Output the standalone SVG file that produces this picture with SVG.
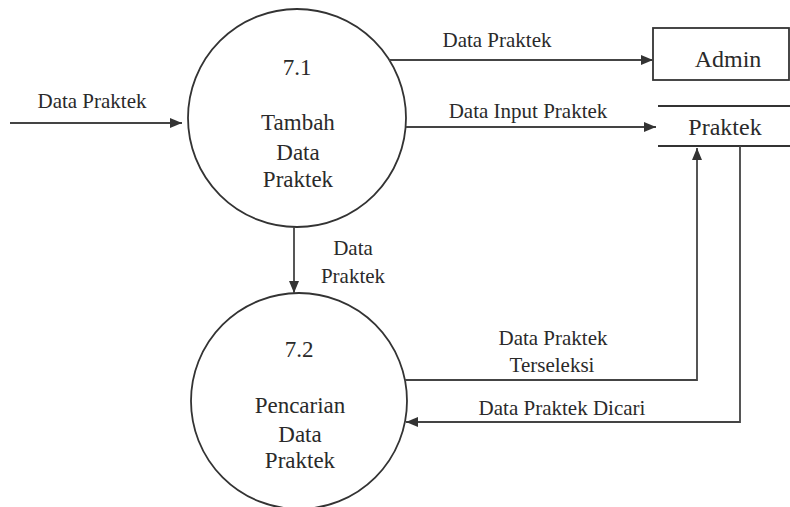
<svg xmlns="http://www.w3.org/2000/svg" width="790" height="507" viewBox="0 0 790 507">
  <style>
    .shape { fill: none; stroke: #333; stroke-width: 1.8; }
    .flow { fill: none; stroke: #444; stroke-width: 1.8; }
    text { font-family: 'Liberation Serif', Tinos, 'DejaVu Serif', 'Noto Serif', 'Times New Roman', serif; fill: #2a2a2a; text-anchor: middle; }
    .lbl { font-size: 21px; }
    .proc { font-size: 23px; }
    .store { font-size: 24px; }
  </style>
  <defs>
    <marker id="arrow" viewBox="0 0 12 10" refX="12" refY="5" markerWidth="12" markerHeight="10" markerUnits="userSpaceOnUse" orient="auto">
      <path d="M0,0 L12,5 L0,10 z" fill="#333"/>
    </marker>
  </defs>
  <rect width="790" height="507" fill="#fff"/>

  <!-- Process 7.1 -->
  <g id="p71">
    <circle class="shape" cx="297" cy="118" r="109"/>
    <text class="proc" x="297" y="75">7.1</text>
    <text class="proc" x="298" y="130">Tambah</text>
    <text class="proc" x="298" y="160">Data</text>
    <text class="proc" x="298" y="187">Praktek</text>
  </g>

  <!-- Process 7.2 -->
  <g id="p72">
    <circle class="shape" cx="299" cy="401" r="108"/>
    <text class="proc" x="299" y="357">7.2</text>
    <text class="proc" x="300" y="413">Pencarian</text>
    <text class="proc" x="300" y="442">Data</text>
    <text class="proc" x="300" y="468">Praktek</text>
  </g>

  <!-- External entity Admin -->
  <g id="admin">
    <rect class="shape" x="653" y="28" width="136" height="52"/>
    <text class="store" x="728" y="67">Admin</text>
  </g>

  <!-- Data store Praktek -->
  <g id="praktek">
    <line class="shape" x1="658" y1="106" x2="790" y2="106"/>
    <line class="shape" x1="658" y1="146" x2="790" y2="146"/>
    <text class="store" x="725" y="135">Praktek</text>
  </g>

  <!-- Data flows -->
  <g id="flows">
    <line class="flow" x1="10" y1="123" x2="182" y2="123" marker-end="url(#arrow)"/>
    <line class="flow" x1="389" y1="60" x2="653" y2="60" marker-end="url(#arrow)"/>
    <line class="flow" x1="406" y1="127" x2="656" y2="127" marker-end="url(#arrow)"/>
    <line class="flow" x1="294" y1="227" x2="294" y2="293" marker-end="url(#arrow)"/>
    <polyline class="flow" points="405,380 697,380 697,148" marker-end="url(#arrow)"/>
    <polyline class="flow" points="740,146 740,422 406,422" marker-end="url(#arrow)"/>
  </g>

  <!-- Flow labels -->
  <g id="labels">
    <text class="lbl" x="92" y="108">Data Praktek</text>
    <text class="lbl" x="497" y="47">Data Praktek</text>
    <text class="lbl" x="528" y="118">Data Input Praktek</text>
    <text class="lbl" x="353" y="255">Data</text>
    <text class="lbl" x="353" y="283">Praktek</text>
    <text class="lbl" x="553" y="345">Data Praktek</text>
    <text class="lbl" x="552" y="372">Terseleksi</text>
    <text class="lbl" x="562" y="415">Data Praktek Dicari</text>
  </g>
</svg>
